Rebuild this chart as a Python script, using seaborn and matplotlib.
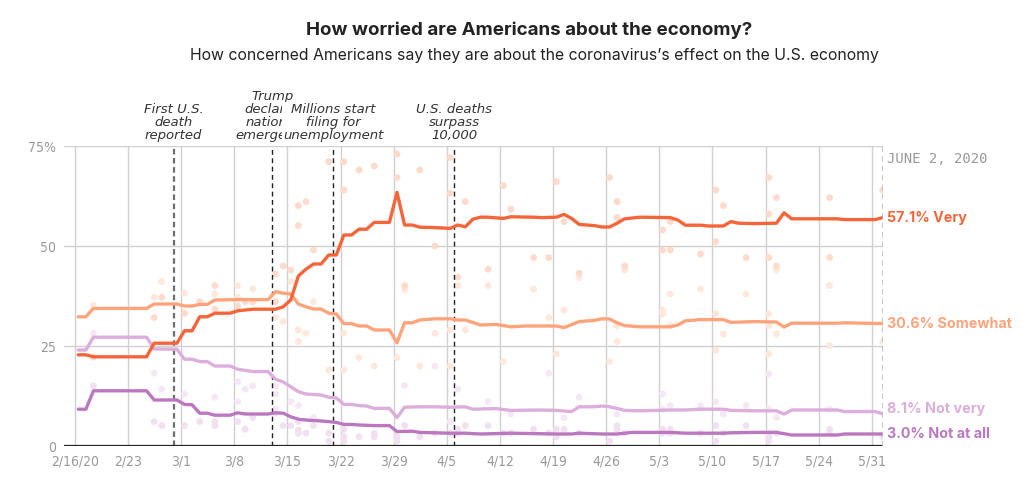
import numpy as np
import pandas as pd
import matplotlib.pyplot as plt
import seaborn as sns

# days counted from 2/16/2020
WEEK_LABELS = ["2/16/20", "2/23", "3/1", "3/8", "3/15", "3/22", "3/29", "4/5",
               "4/12", "4/19", "4/26", "5/3", "5/10", "5/17", "5/24", "5/31"]

ANSWERS = ["Not at all", "Not very", "Somewhat", "Very"]

VERY_DAYS = [0, 1, 2, 9, 10, 13, 14, 15, 16, 17, 18, 20, 21, 22, 23, 26, 27, 28,
             29, 30, 31, 32, 33, 34, 35, 36, 37, 38, 39, 41, 42, 43, 44, 45, 47,
             49, 50, 51, 52, 53, 54, 56, 57, 60, 61, 63, 64, 65, 66, 67, 68, 69,
             70, 71, 72, 74, 78, 79, 80, 82, 83, 85, 86, 87, 89, 92, 93, 94, 100,
             101, 105, 106]
VERY_PCT = [22.8, 22.8, 22.3, 22.3, 25.7, 25.7, 28.8, 28.8, 32.3, 32.3, 33.2,
            33.2, 33.8, 34.0, 34.2, 34.2, 34.8, 36.5, 42.5, 44.2, 45.5, 45.5,
            47.75, 47.75, 52.75, 52.75, 54.2, 54.2, 55.9, 55.9, 63.4, 55.25,
            55.25, 54.7, 54.6, 54.4, 55.25, 54.8, 56.7, 57.2, 57.2, 56.9, 57.3,
            57.2, 57.1, 57.2, 57.9, 56.9, 55.4, 55.25, 55.1, 54.75, 54.75, 55.7,
            56.8, 57.2, 57.1, 56.5, 55.2, 55.2, 55.0, 55.0, 56.1, 55.7, 55.6,
            55.7, 58.3, 56.8, 56.8, 56.6, 56.6, 57.1]

SOMEWHAT_DAYS = [0, 1, 2, 9, 10, 13, 14, 15, 16, 17, 18, 21, 25, 26, 27, 28, 29,
                 30, 31, 32, 33, 34, 35, 36, 37, 38, 39, 41, 42, 43, 44, 45, 47,
                 49, 50, 51, 53, 55, 57, 59, 63, 64, 66, 68, 69, 70, 71, 72, 74,
                 78, 79, 80, 82, 85, 86, 89, 92, 93, 94, 100, 101, 106]
SOMEWHAT_PCT = [32.3, 32.3, 34.4, 34.4, 35.5, 35.5, 35.0, 35.0, 35.4, 35.4, 36.5,
                36.6, 36.6, 38.6, 38.2, 38.0, 35.5, 34.8, 34.25, 34.25, 33.2,
                33.0, 30.6, 30.6, 30.0, 30.0, 29.0, 29.0, 25.8, 30.8, 30.8, 31.5,
                31.8, 31.8, 31.5, 31.5, 30.25, 30.4, 29.8, 30.0, 30.0, 29.6, 31.1,
                31.4, 31.8, 31.75, 30.8, 30.1, 29.8, 29.8, 30.25, 31.3, 31.6,
                31.6, 30.9, 31.1, 31.0, 29.75, 30.7, 30.7, 30.8, 30.6]

NOT_VERY_DAYS = [0, 1, 2, 9, 10, 13, 14, 15, 16, 17, 18, 20, 21, 22, 23, 25, 26,
                 27, 28, 29, 30, 32, 33, 34, 35, 36, 37, 38, 39, 41, 42, 43, 45,
                 47, 49, 51, 52, 55, 57, 61, 63, 65, 66, 68, 69, 70, 71, 72, 74,
                 78, 80, 82, 85, 86, 89, 92, 93, 94, 100, 101, 105, 106]
NOT_VERY_PCT = [24.0, 24.0, 27.2, 27.2, 24.25, 24.2, 21.7, 21.7, 21.1, 21.1,
                20.0, 20.0, 19.2, 18.9, 18.6, 18.6, 16.7, 16.0, 14.8, 13.6, 13.0,
                12.75, 12.2, 12.0, 10.4, 10.4, 10.1, 10.0, 9.4, 9.4, 7.1, 9.7,
                9.8, 9.8, 9.7, 9.8, 9.2, 9.35, 8.9, 9.0, 8.9, 8.6, 9.8, 9.8, 10.0,
                9.8, 9.4, 8.9, 8.8, 9.0, 9.0, 9.2, 9.2, 8.9, 8.8, 8.8, 8.0, 9.0,
                9.0, 8.6, 8.6, 8.1]

NOT_AT_ALL_DAYS = [0, 1, 2, 9, 10, 13, 14, 15, 16, 17, 18, 20, 21, 22, 25, 26,
                   27, 28, 29, 30, 32, 33, 34, 35, 36, 37, 39, 41, 42, 44, 45, 49,
                   51, 53, 57, 63, 65, 66, 69, 71, 72, 73, 78, 80, 85, 86, 89, 92,
                   94, 100, 101, 106]
NOT_AT_ALL_PCT = [9.2, 9.2, 13.8, 13.8, 11.5, 11.5, 10.4, 10.3, 8.2, 8.2, 7.7,
                  7.7, 8.3, 8.0, 8.0, 8.3, 8.2, 7.3, 6.7, 6.5, 6.25, 6.1, 5.9, 5.4,
                  5.4, 5.25, 5.1, 5.1, 3.6, 3.7, 3.4, 3.2, 3.2, 3.0, 3.2, 3.0, 3.0,
                  3.2, 3.0, 3.0, 3.2, 3.4, 3.4, 3.2, 3.2, 3.3, 3.4, 3.4, 2.75, 2.75,
                  3.0, 3.0]

# individual polls
VERY_POLL_DAYS = [2, 10, 11, 14, 16, 18, 18, 21, 22, 23, 26, 26, 27, 28, 29, 29,
                  30, 31, 33, 35, 35, 37, 39, 42, 42, 43, 45, 47, 49, 49, 50, 51,
                  54, 56, 57, 60, 62, 63, 64, 66, 70, 71, 71, 72, 77, 77, 78, 78,
                  82, 84, 84, 85, 88, 91, 91, 91, 92, 92, 99, 99, 106]
VERY_POLL_PCT = [22.2, 32.1, 37.2, 33.2, 36.1, 34.2, 40.1, 35.0, 36.1, 36.1, 43.0,
                 36.1, 45.0, 44.0, 60.1, 55.1, 61.1, 49.0, 71.1, 71.1, 64.0, 69.0,
                 70.0, 73.0, 67.1, 40.1, 69.0, 50.0, 72.1, 63.2, 42.2, 61.1, 44.2,
                 65.1, 59.2, 47.1, 47.1, 66.1, 56.1, 43.2, 67.1, 61.1, 57.1, 45.0,
                 54.0, 49.0, 56.1, 49.0, 48.0, 64.0, 51.1, 60.1, 47.1, 67.1, 58.0,
                 47.1, 62.1, 45.0, 62.1, 47.1, 64.0]

SOMEWHAT_POLL_DAYS = [2, 10, 11, 14, 18, 21, 21, 23, 26, 27, 28, 29, 29, 30, 31,
                      33, 35, 35, 37, 39, 42, 43, 45, 47, 49, 49, 50, 51, 54, 56,
                      60, 62, 63, 64, 66, 70, 71, 71, 72, 77, 77, 78, 78, 82, 84,
                      84, 85, 88, 91, 91, 91, 92, 92, 99, 99, 106]
SOMEWHAT_POLL_PCT = [35.1, 37.2, 41.1, 38.2, 38.0, 37.2, 40.1, 39.2, 32.1, 31.1,
                     41.1, 29.0, 26.1, 28.2, 36.1, 19.0, 28.2, 19.0, 22.1, 20.0,
                     22.1, 39.2, 20.0, 28.2, 29.0, 20.0, 40.1, 29.0, 40.1, 21.1,
                     39.2, 32.1, 23.0, 34.0, 42.1, 21.1, 30.1, 26.1, 44.0, 34.0,
                     33.0, 38.0, 30.1, 39.2, 33.0, 24.0, 28.0, 38.0, 33.0, 30.1,
                     23.0, 44.0, 28.0, 40.1, 25.1, 26.1]

NOT_VERY_POLL_DAYS = [2, 10, 11, 14, 18, 21, 21, 22, 23, 26, 26, 26, 28, 29, 31,
                      43, 47, 49, 50, 54, 57, 62, 64, 66, 71, 77, 77, 78, 82, 84,
                      85, 88, 91, 91, 92, 99]
NOT_VERY_POLL_PCT = [28.2, 18.2, 14.2, 13.0, 12.2, 16.1, 11.1, 14.2, 15.0, 15.0,
                     13.0, 9.2, 11.1, 10.1, 7.1, 15.1, 20.0, 6.1, 14.2, 11.1, 8.0,
                     18.2, 7.1, 12.2, 8.0, 13.0, 9.2, 10.1, 10.1, 11.1, 8.0, 10.1,
                     18.0, 9.2, 7.1, 9.2]

NOT_AT_ALL_POLL_DAYS = [2, 10, 11, 14, 16, 18, 18, 21, 22, 23, 26, 27, 28, 29, 29,
                        29, 30, 31, 33, 33, 35, 35, 35, 37, 39, 39, 42, 42, 43, 45,
                        47, 49, 50, 50, 51, 54, 56, 57, 60, 62, 63, 63, 64, 66, 70,
                        71, 71, 72, 77, 77, 78, 78, 82, 84, 84, 85, 88, 91, 91, 91,
                        92, 99, 99, 106]
NOT_AT_ALL_POLL_PCT = [15.0, 6.1, 5.1, 5.1, 6.1, 6.1, 5.1, 6.1, 4.2, 7.1, 8.2, 5.1,
                       5.1, 6.1, 4.0, 3.2, 3.2, 5.1, 3.2, 1.2, 4.2, 2.3, 1.2, 2.3,
                       3.2, 2.3, 2.3, 1.2, 5.1, 2.3, 3.2, 3.2, 4.2, 3.2, 5.1, 5.1,
                       3.2, 3.2, 4.2, 3.2, 4.2, 2.3, 4.2, 3.2, 1.2, 5.1, 4.2, 3.2,
                       4.2, 3.2, 4.2, 3.2, 3.2, 5.1, 1.2, 3.2, 5.1, 3.2, 2.3, 1.2,
                       3.2, 4.2, 3.2, 2.3]

EVENT_DAYS = [13, 26, 34, 50]
EVENT_TEXT = ["First U.S.\ndeath\nreported",
              "Trump\ndeclares\nnational\nemergency",
              "Millions start\nfiling for\nunemployment",
              "U.S. deaths\nsurpass\n10,000"]

LAST_DAY_LABEL = "JUNE 2, 2020"

LINE_COLORS = {"Very": "#f4663a", "Somewhat": "#fea47c",
               "Not very": "#dcaedb", "Not at all": "#bb78c0"}
DOT_COLORS = {"Very": "#fcdacc", "Somewhat": "#fee8dc",
              "Not very": "#f5e8f4", "Not at all": "#f1e1f0"}

# polls are plotted around midday of their date
POLL_OFFSET = 0.43


def build_frame(series):
    frames = []
    for name, days, pct in series:
        frames.append(pd.DataFrame({"day": np.array(days) + POLL_OFFSET,
                                    "pct": pct, "answer": name}))
    return pd.concat(frames, ignore_index=True)


lines = build_frame([("Not at all", NOT_AT_ALL_DAYS, NOT_AT_ALL_PCT),
                     ("Not very", NOT_VERY_DAYS, NOT_VERY_PCT),
                     ("Somewhat", SOMEWHAT_DAYS, SOMEWHAT_PCT),
                     ("Very", VERY_DAYS, VERY_PCT)])
polls = build_frame([("Not at all", NOT_AT_ALL_POLL_DAYS, NOT_AT_ALL_POLL_PCT),
                     ("Not very", NOT_VERY_POLL_DAYS, NOT_VERY_POLL_PCT),
                     ("Somewhat", SOMEWHAT_POLL_DAYS, SOMEWHAT_POLL_PCT),
                     ("Very", VERY_POLL_DAYS, VERY_POLL_PCT)])

sns.set_style("white")
plt.rcParams["font.family"] = ["Inter", "DejaVu Sans"]

fig = plt.figure(figsize=(10.32, 4.86), dpi=100)
ax = fig.add_axes([64 / 1032, 40 / 486, 818.7 / 1032, 300 / 486])

sns.scatterplot(data=polls, x="day", y="pct", hue="answer", hue_order=ANSWERS,
                palette=DOT_COLORS, s=24, linewidth=0, legend=False, ax=ax,
                zorder=2)
sns.lineplot(data=lines, x="day", y="pct", hue="answer", hue_order=ANSWERS,
             palette=LINE_COLORS, estimator=None, linewidth=2.4, legend=False,
             ax=ax, zorder=4)

x_end = max(VERY_DAYS) + POLL_OFFSET
ax.set_xlim(-1.45, x_end)
ax.set_ylim(0, 75)

ax.set_xticks(np.arange(len(WEEK_LABELS)) * 7)
ax.set_xticklabels(WEEK_LABELS)
ax.set_yticks([0, 25, 50, 75])
ax.set_yticklabels(["0", "25", "50", "75%"])
ax.grid(True, color="#d0d0d0", linewidth=1)
ax.set_axisbelow(True)
for side in ax.spines:
    ax.spines[side].set_visible(False)
ax.tick_params(length=0, colors="#999999", labelsize=10, pad=6)
for lab in ax.get_xticklabels() + ax.get_yticklabels():
    lab.set_fontfamily(["DejaVu Sans"])
    lab.set_fontstretch("condensed")
ax.set_xlabel("")
ax.set_ylabel("")

ax.axhline(0, color="#222222", linewidth=1.6, zorder=5)
ax.axvline(x_end, color="#b5b5b5", linewidth=1.8, linestyle=(0, (2.2, 1.6)),
           zorder=5)

for i, (day, text) in enumerate(zip(EVENT_DAYS, EVENT_TEXT)):
    if i == 0:
        ax.axvline(day, color="#6e6e6e", linewidth=1.6,
                   linestyle=(0, (2.5, 1.6)), zorder=3)
    else:
        ax.axvline(day, color="#222222", linewidth=1.0,
                   linestyle=(0, (3.5, 2.5)), zorder=3)
    box = None
    if i == 2:
        box = dict(facecolor="white", edgecolor="none", pad=0.5)
    ax.text(day, 76.0, text, ha="center", va="bottom", style="italic",
            fontsize=9.5, color="#333333", linespacing=1.0,
            family=["DejaVu Sans"], bbox=box, clip_on=False,
            zorder=6 if i == 2 else 5)

ax.annotate(LAST_DAY_LABEL, xy=(1, 71.75), xycoords=("axes fraction", "data"),
            xytext=(3, 0), textcoords="offset points", ha="left", va="center",
            family=["DejaVu Sans Mono"], fontsize=10, color="#999999")

label_nudge = {"Very": 0, "Somewhat": 0, "Not very": 3, "Not at all": 0}
for name in ANSWERS:
    last = lines[lines["answer"] == name].iloc[-1]
    ax.annotate(f"{last['pct']:.1f}% {name}", xy=(1, last["pct"]),
                xycoords=("axes fraction", "data"),
                xytext=(3, label_nudge[name]), textcoords="offset points",
                ha="left", va="center", fontsize=10.3, fontweight="bold",
                color=LINE_COLORS[name])

fig.text(0.513, 0.937, "How worried are Americans about the economy?",
         ha="center", va="center", fontsize=13.5, fontweight="bold",
         color="#222222")
fig.text(0.518, 0.885,
         "How concerned Americans say they are about the coronavirus\u2019s "
         "effect on the U.S. economy",
         ha="center", va="center", fontsize=11.4, color="#222222")

fig.savefig("out.png", dpi=100)
